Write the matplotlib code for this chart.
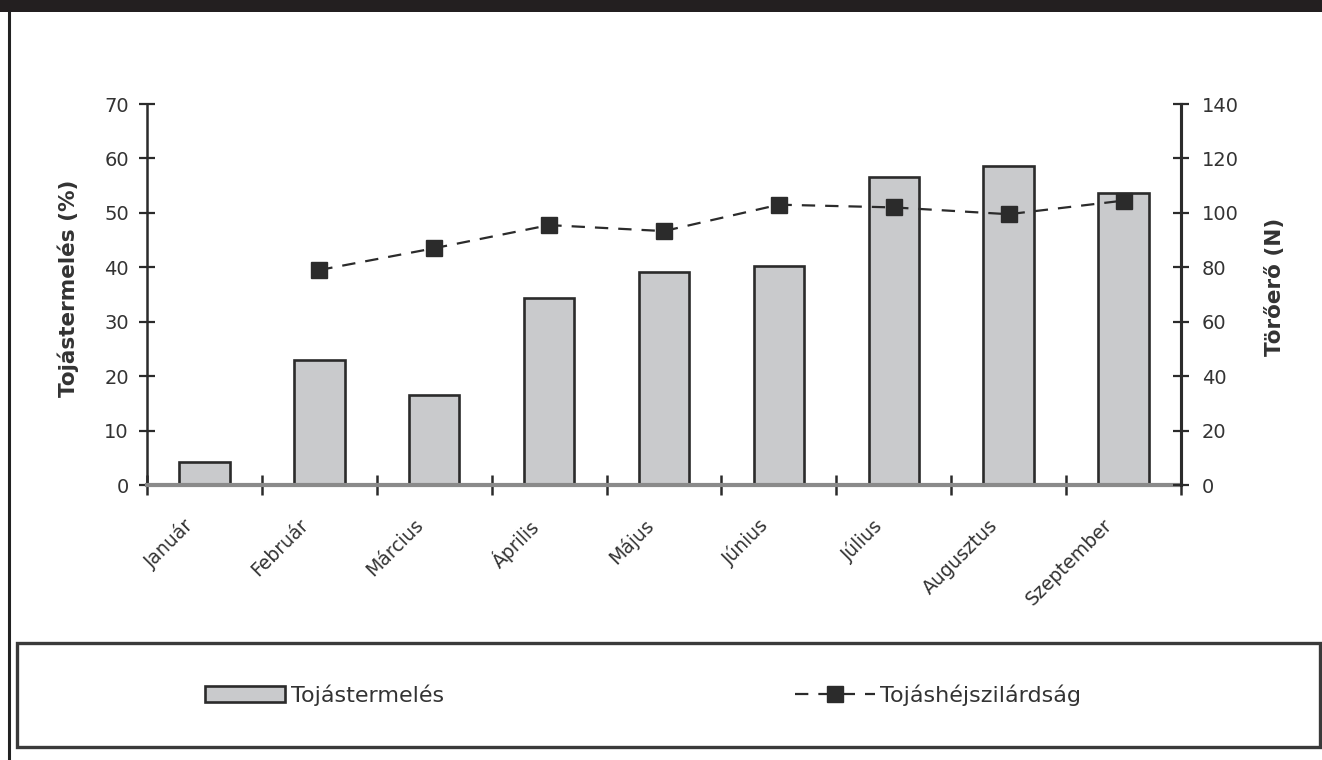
import numpy as np
import matplotlib.pyplot as plt
from matplotlib.patches import Rectangle
from matplotlib.lines import Line2D

plt.rcParams['font.family'] = ['DejaVu Sans']

# monthly egg production (%) and shell breaking force (N)
months = ['Január', 'Február', 'Március', 'Április', 'Május',
          'Június', 'Július', 'Augusztus', 'Szeptember']
egg_production = [4.2, 23.0, 16.5, 34.4, 39.2, 40.2, 56.5, 58.7, 53.7]
breaking_force = [np.nan, 79, 87, 95.5, 93.3, 103, 102, 99.5, 104.5]

left_ticks = [0, 10, 20, 30, 40, 50, 60, 70]
right_ticks = [0, 20, 40, 60, 80, 100, 120, 140]

TXT = '#333333'
DARK = '#2b2b2b'

fig = plt.figure(figsize=(13.22, 7.6), dpi=100)

# black band at the top and the left page border
fig.patches.append(Rectangle((0, 1 - 12 / 760), 1, 12 / 760, transform=fig.transFigure,
                             facecolor='#231f20', edgecolor='none', zorder=0))
fig.add_artist(Line2D([9 / 1322, 9 / 1322], [0, 1 - 12 / 760], transform=fig.transFigure,
                      color='#222222', lw=2.2))

ax = fig.add_axes([147 / 1322, 1 - 485 / 760, (1181 - 147) / 1322, (485 - 104) / 760])
x = np.arange(len(months))

bars = ax.bar(x, egg_production, width=0.44, color='#c9cacc', edgecolor=DARK,
              linewidth=1.9, zorder=2, label='Tojástermelés')

ax.set_xlim(-0.5, len(months) - 0.5)
ax.set_ylim(0, 70)
ax.set_yticks(left_ticks)
ax.set_xticks(np.arange(len(months) + 1) - 0.5)
ax.set_xticklabels([])
# month names sit a little left of the bar centres
ax.set_xticks(x - 0.18, minor=True)
ax.set_xticklabels(months, minor=True, rotation=45, ha='right', va='top',
                   rotation_mode='anchor', fontsize=13.5, color=TXT)
ax.tick_params(axis='x', which='minor', length=0, pad=22)
ax.tick_params(axis='x', which='major', direction='inout', length=14, width=1.8, color=DARK)
ax.tick_params(axis='y', direction='inout', length=12, width=1.6, color=DARK,
               labelsize=14, labelcolor=TXT, pad=7)

ax.spines['top'].set_visible(False)
ax.spines['left'].set_color(DARK)
ax.spines['left'].set_linewidth(1.8)
ax.spines['right'].set_color(DARK)
ax.spines['right'].set_linewidth(2.2)
ax.spines['bottom'].set_color('#8a8a8a')
ax.spines['bottom'].set_linewidth(3)
ax.set_ylabel('Tojástermelés (%)', fontsize=15.5, fontweight='bold', color=TXT)
ax.yaxis.set_label_coords(-0.066, 0.515)

ax2 = ax.twinx()
ax2.set_ylim(0, 140)
ax2.set_yticks(right_ticks)
ax2.plot(x, breaking_force, linestyle=(0, (6, 4.5)), color=DARK, lw=1.6,
         marker='s', markersize=12, markerfacecolor=DARK, markeredgecolor=DARK,
         zorder=3, label='Tojáshéjszilárdság')
ax2.tick_params(axis='y', direction='inout', length=12, width=1.6, color=DARK,
                labelsize=14, labelcolor=TXT, pad=9)
for side in ['top', 'left', 'bottom']:
    ax2.spines[side].set_visible(False)
ax2.spines['right'].set_color(DARK)
ax2.spines['right'].set_linewidth(2.2)
ax2.set_ylabel('Törőerő (N)', fontsize=15.5, fontweight='bold', color=TXT, rotation=90)
ax2.yaxis.set_label_coords(1.081, 0.52)

# legend in its own framed box under the chart
box_x0, box_x1 = 17 / 1322, 1320 / 1322
box_y0, box_y1 = 1 - 747 / 760, 1 - 643 / 760
fig.patches.append(Rectangle((box_x0, box_y0), box_x1 - box_x0, box_y1 - box_y0,
                             transform=fig.transFigure, facecolor='white',
                             edgecolor='#3a3a3a', linewidth=2.4, zorder=1))
handles = [bars, ax2.get_lines()[0]]
fig.legend(handles, [h.get_label() for h in handles], loc='center left',
           bbox_to_anchor=(205 / 1322, (box_y0 + box_y1) / 2), borderaxespad=0,
           borderpad=0, ncol=2, frameon=False, fontsize=16, handlelength=3.6,
           handletextpad=0.25, columnspacing=15.8, labelcolor=TXT)

fig.savefig('out.png', dpi=100, facecolor='white')
